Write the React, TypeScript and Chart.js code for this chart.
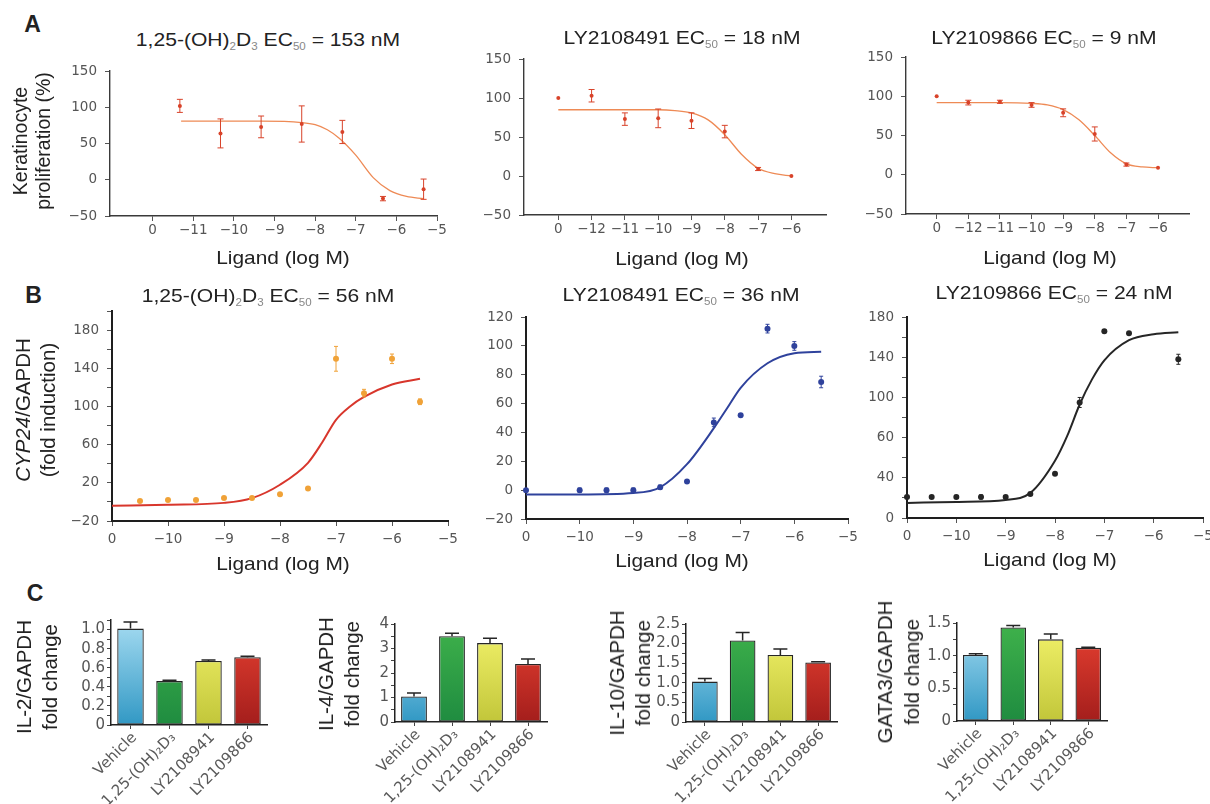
import React, { useEffect, useRef } from "react";
import { Chart, registerables } from "chart.js";
Chart.register(...registerables);

const HFONT = '"Liberation Sans", Arial, Helvetica, sans-serif';
const TFONT = '"DejaVu Sans", "Liberation Sans", sans-serif';
const M = "\u2212";

// ---------------- Row A : keratinocyte proliferation ----------------
const A_Y_TICKS = [-50, 0, 50, 100, 150];
const A_Y_LABELS = [`${M}50`, "0", "50", "100", "150"];

const A1_X_TICKS = [0, 1, 2, 3, 4, 5, 6, 7];
const A1_X_LABELS = ["0", `${M}11`, `${M}10`, `${M}9`, `${M}8`, `${M}7`, `${M}6`, `${M}5`];
const A1_PT_X = [0.67, 1.67, 2.67, 3.67, 4.67, 5.67, 6.67];
const A1_PT_Y = [102, 64, 73, 77, 66, -26, -13];
const A1_PT_ERR = [9, 20, 15, 25, 16, 3, 14];
const A1_FIT_X = [0.7, 1.67, 2.67, 3.67, 4.0, 4.3, 4.6, 5.0, 5.43, 5.84, 6.25, 6.67];
const A1_FIT_Y = [81, 81, 81, 79, 76, 69, 57, 34, 3, -15, -23, -26];

const A2_X_TICKS = [0, 1, 2, 3, 4, 5, 6, 7];
const A2_X_LABELS = ["0", `${M}12`, `${M}11`, `${M}10`, `${M}9`, `${M}8`, `${M}7`, `${M}6`];
const A2_PT_X = [0, 1, 2, 3, 4, 5, 6, 7];
const A2_PT_Y = [100, 103, 73, 74, 71, 57, 9, 0];
const A2_PT_ERR = [0, 8, 8, 12, 10, 8, 2, 0];
const A2_FIT_X = [0, 1, 2, 3, 3.5, 4, 4.5, 5, 5.5, 6, 6.5, 7];
const A2_FIT_Y = [85, 85, 85, 85, 84, 81, 72, 53, 28, 10, 3, 0];

const A3_X_TICKS = [0, 1, 2, 3, 4, 5, 6, 7];
const A3_X_LABELS = ["0", `${M}12`, `${M}11`, `${M}10`, `${M}9`, `${M}8`, `${M}7`, `${M}6`];
const A3_PT_X = [0, 1, 2, 3, 4, 5, 6, 7];
const A3_PT_Y = [100, 92, 93, 89, 79, 52, 13, 9];
const A3_PT_ERR = [0, 3, 2, 3, 5, 9, 2, 0];
const A3_FIT_X = [0, 1, 2, 3, 3.5, 4, 4.5, 5, 5.5, 6, 6.5, 7];
const A3_FIT_Y = [92, 92, 92, 91, 89, 83, 70, 50, 28, 14, 10, 9];

// ---------------- Row B : CYP24 induction ----------------
const B_X_TICKS = [0, 1, 2, 3, 4, 5, 6];
const B_X_LABELS = ["0", `${M}10`, `${M}9`, `${M}8`, `${M}7`, `${M}6`, `${M}5`];

const B1_Y_TICKS = [-20, 0, 20, 40, 60, 80, 100, 120, 140, 160, 180, 200];
const B1_Y_LABELS = [`${M}20`, "", "20", "", "60", "", "100", "", "140", "", "180", ""];
const B1_PT_X = [0.5, 1, 1.5, 2, 2.5, 3, 3.5, 4, 4.5, 5, 5.5];
const B1_PT_Y = [1, 2, 2, 4, 4, 8, 14, 150, 114, 150, 105];
const B1_PT_ERR = [1.5, 1.5, 1.5, 1.5, 1.5, 1.5, 1.5, 13, 4, 5, 3];
const B1_FIT_X = [0, 1, 2, 2.5, 3, 3.5, 3.75, 4, 4.25, 4.5, 5, 5.5];
const B1_FIT_Y = [-4, -3, -1, 4, 18, 41, 62, 86, 100, 110, 123, 129];

const B2_Y_TICKS = [-20, 0, 20, 40, 60, 80, 100, 120];
const B2_Y_LABELS = [`${M}20`, "0", "20", "40", "60", "80", "100", "120"];
const B2_PT_X = [0, 1, 1.5, 2, 2.5, 3, 3.5, 4, 4.5, 5, 5.5];
const B2_PT_Y = [0, 0, 0, 0, 2, 6, 47, 52, 112, 100, 75];
const B2_PT_ERR = [1, 1.5, 1.5, 1.5, 1.5, 1, 3, 1, 3, 3, 4];
const B2_FIT_X = [0, 1, 2, 2.5, 3, 3.5, 3.75, 4, 4.5, 5, 5.5];
const B2_FIT_Y = [-3, -3, -2, 2, 18, 43, 57, 71, 88, 95, 96];

const B3_Y_TICKS = [-20, 0, 20, 40, 60, 80, 100, 120, 140, 160, 180];
const B3_Y_LABELS = ["0", "", "40", "", "60", "", "100", "", "140", "", "180"];
const B3_PT_X = [0, 0.5, 1, 1.5, 2, 2.5, 3, 3.5, 4, 4.5, 5.5];
const B3_PT_Y = [1, 1, 1, 1, 1, 4, 24, 95, 166, 164, 138];
const B3_PT_ERR = [1, 1, 1.5, 2, 1, 1, 1, 5, 1.5, 1, 5];
const B3_FIT_X = [0, 1, 2, 2.5, 3, 3.25, 3.5, 3.75, 4, 4.5, 5, 5.5];
const B3_FIT_Y = [-5, -4, -2, 5, 37, 62, 93, 118, 137, 157, 163, 165];

// ---------------- Row C : cytokine bars ----------------
const C_CATEGORIES = ["Vehicle", "1,25-(OH)\u2082D\u2083", "LY2108941", "LY2109866"];

const C1_VALUES = [1.01, 0.46, 0.67, 0.71];
const C1_ERR = [0.07, 0.01, 0.01, 0.01];
const C1_Y_TICKS = [0, 0.1, 0.2, 0.3, 0.4, 0.5, 0.6, 0.7, 0.8, 0.9, 1.0, 1.1];
const C1_Y_LABELS = ["0", "", "0.2", "", "0.4", "", "0.6", "", "0.8", "", "1.0", ""];

const C2_VALUES = [1.04, 3.5, 3.22, 2.37];
const C2_ERR = [0.14, 0.12, 0.2, 0.2];
const C2_Y_TICKS = [0, 0.5, 1, 1.5, 2, 2.5, 3, 3.5, 4];
const C2_Y_LABELS = ["0", "", "1", "", "2", "", "3", "", "4"];

const C3_VALUES = [1.03, 2.08, 1.71, 1.52];
const C3_ERR = [0.08, 0.2, 0.15, 0.02];
const C3_Y_TICKS = [0, 0.25, 0.5, 0.75, 1.0, 1.25, 1.5, 1.75, 2.0, 2.25, 2.5];
const C3_Y_LABELS = ["0", "", "0.5", "", "1.0", "", "1.5", "", "2.0", "", "2.5"];

const C4_VALUES = [1.01, 1.43, 1.25, 1.12];
const C4_ERR = [0.02, 0.03, 0.08, 0.01];
const C4_Y_TICKS = [0, 0.25, 0.5, 0.75, 1.0, 1.25, 1.5];
const C4_Y_LABELS = ["0", "", "0.5", "", "1.0", "", "1.5"];

const C_BAR_TOP = ["#a6dcf2", "#3fb24b", "#f4f46c", "#ea4232"];
const C_BAR_BOTTOM = ["#3198c4", "#1f8c40", "#c2c63a", "#a41e1c"];

// ---------------- error bar plugin ----------------
const errorBarPlugin = {
  id: "errorBars",
  afterDatasetsDraw(chart: any) {
    const ctx = chart.ctx;
    const ys = chart.scales.y;
    chart.data.datasets.forEach((ds: any, di: number) => {
      const errs = ds.errors;
      if (!errs) return;
      const meta = chart.getDatasetMeta(di);
      ctx.save();
      ctx.strokeStyle = ds.errorColor;
      ctx.lineWidth = ds.errorWidth || 1;
      meta.data.forEach((el: any, i: number) => {
        const e = errs[i];
        if (!e) return;
        const raw = ds.data[i];
        const v = typeof raw === "number" ? raw : raw.y;
        const x = el.x;
        const top = ys.getPixelForValue(v + e);
        const bot = ds.errorUpOnly ? ys.getPixelForValue(v) : ys.getPixelForValue(v - e);
        const cap = ds.capWidth || 3;
        ctx.beginPath();
        ctx.moveTo(x, top);
        ctx.lineTo(x, bot);
        ctx.moveTo(x - cap, top);
        ctx.lineTo(x + cap, top);
        if (!ds.errorUpOnly) {
          ctx.moveTo(x - cap, bot);
          ctx.lineTo(x + cap, bot);
        }
        ctx.stroke();
      });
      ctx.restore();
    });
  },
};

type DoseSpec = {
  area: [number, number, number, number];
  xMin: number; xMax: number; xTicks: number[]; xLabels: string[];
  yMin: number; yMax: number; yTicks: number[]; yLabels: string[];
  ptX: number[]; ptY: number[]; ptErr: number[];
  fitX: number[]; fitY: number[];
  ptColor: string; fitColor: string; fitWidth: number; radius: number; cap: number;
  axisW: number; axisColor: string; xPad: number; yPad: number;
};

function DoseChart({ s }: { s: DoseSpec }) {
  const ref = useRef<HTMLCanvasElement>(null);
  const YW = 56, PT = 12, PR = 22, XH = 34;
  const [l, t, r, b] = s.area;
  const w = r - l + YW + PR;
  const h = b - t + PT + XH;
  useEffect(() => {
    const chart = new Chart(ref.current as HTMLCanvasElement, {
      type: "scatter",
      data: {
        datasets: [
          {
            type: "line",
            data: s.fitX.map((x, i) => ({ x, y: s.fitY[i] })),
            borderColor: s.fitColor,
            borderWidth: s.fitWidth,
            pointRadius: 0,
            showLine: true,
            cubicInterpolationMode: "monotone",
            fill: false,
            order: 2,
          } as any,
          {
            type: "scatter",
            data: s.ptX.map((x, i) => ({ x, y: s.ptY[i] })),
            backgroundColor: s.ptColor,
            borderColor: s.ptColor,
            pointRadius: s.radius,
            pointBorderWidth: 0,
            clip: false,
            order: 1,
            errors: s.ptErr,
            errorColor: s.ptColor,
            capWidth: s.cap,
            errorWidth: 1,
          } as any,
        ],
      },
      options: {
        responsive: false,
        animation: false,
        devicePixelRatio: 1,
        layout: { padding: { left: 0, top: PT, right: PR, bottom: 0 } },
        plugins: { legend: { display: false }, tooltip: { enabled: false }, title: { display: false } },
        scales: {
          x: {
            type: "linear",
            bounds: "data",
            min: s.xMin,
            max: s.xMax,
            afterBuildTicks: (sc: any) => { sc.ticks = s.xTicks.map((v) => ({ value: v })); },
            afterFit: (sc: any) => { sc.height = XH; },
            ticks: {
              autoSkip: false, maxRotation: 0, minRotation: 0,
              callback: (_v: any, i: number) => s.xLabels[i],
              font: { family: TFONT, size: 13.5 }, color: "#555", padding: s.xPad,
            },
            grid: { drawOnChartArea: false, drawTicks: true, tickLength: 5, color: "#555", lineWidth: 1 },
            border: { display: true, color: s.axisColor, width: s.axisW },
          } as any,
          y: {
            type: "linear",
            bounds: "data",
            min: s.yMin,
            max: s.yMax,
            afterBuildTicks: (sc: any) => { sc.ticks = s.yTicks.map((v) => ({ value: v })); },
            afterFit: (sc: any) => { sc.width = YW; },
            ticks: {
              autoSkip: false,
              callback: (_v: any, i: number) => s.yLabels[i],
              font: { family: TFONT, size: 13.5 }, color: "#555", padding: s.yPad,
            },
            grid: { drawOnChartArea: false, drawTicks: true, tickLength: 5, color: "#555", lineWidth: 1 },
            border: { display: true, color: s.axisColor, width: s.axisW },
          } as any,
        },
      },
      plugins: [errorBarPlugin as any],
    });
    return () => chart.destroy();
  }, []);
  return (
    <canvas
      ref={ref}
      width={w}
      height={h}
      style={{ position: "absolute", left: l - YW, top: t - PT, width: w, height: h }}
    />
  );
}

type BarSpec = {
  area: [number, number, number, number];
  yMax: number; yTicks: number[]; yLabels: string[];
  values: number[]; errors: number[];
};

function barFill(c: any) {
  const chart = c.chart;
  const area = chart.chartArea;
  const i = c.dataIndex ?? 0;
  if (!area) return C_BAR_BOTTOM[i];
  const g = chart.ctx.createLinearGradient(0, area.bottom, 0, area.top);
  g.addColorStop(0, C_BAR_BOTTOM[i]);
  g.addColorStop(1, C_BAR_TOP[i]);
  return g;
}

function BarChart({ s }: { s: BarSpec }) {
  const ref = useRef<HTMLCanvasElement>(null);
  const YW = 42, PT = 12, PR = 14, XH = 100;
  const [l, t, r, b] = s.area;
  const w = r - l + YW + PR;
  const h = b - t + PT + XH;
  useEffect(() => {
    const chart = new Chart(ref.current as HTMLCanvasElement, {
      type: "bar",
      data: {
        labels: C_CATEGORIES,
        datasets: [
          {
            data: s.values,
            backgroundColor: barFill,
            borderColor: "#262626",
            borderWidth: 1.3,
            borderSkipped: false,
            barPercentage: 0.68,
            categoryPercentage: 1,
            errors: s.errors,
            errorUpOnly: true,
            errorColor: "#262626",
            errorWidth: 1.5,
            capWidth: 7,
          } as any,
        ],
      },
      options: {
        responsive: false,
        animation: false,
        devicePixelRatio: 1,
        layout: { padding: { left: 0, top: PT, right: PR, bottom: 0 } },
        plugins: { legend: { display: false }, tooltip: { enabled: false }, title: { display: false } },
        scales: {
          x: {
            type: "category",
            offset: true,
            afterFit: (sc: any) => { sc.height = XH; },
            ticks: {
              autoSkip: false, minRotation: 45, maxRotation: 45, labelOffset: 4,
              font: { family: TFONT, size: 15 }, color: "#5a5a5a", padding: 0,
            },
            grid: { offset: false, drawOnChartArea: false, drawTicks: true, tickLength: 4, color: "#444" },
            border: { display: true, color: "#222", width: 1.5 },
          } as any,
          y: {
            type: "linear",
            bounds: "data",
            min: 0,
            max: s.yMax,
            afterBuildTicks: (sc: any) => { sc.ticks = s.yTicks.map((v) => ({ value: v })); },
            afterFit: (sc: any) => { sc.width = YW; },
            ticks: {
              autoSkip: false,
              callback: (_v: any, i: number) => s.yLabels[i],
              font: { family: TFONT, size: 15 }, color: "#555", padding: 2,
            },
            grid: { drawOnChartArea: false, drawTicks: true, tickLength: 4, color: "#444" },
            border: { display: true, color: "#222", width: 1.5 },
          } as any,
        },
      },
      plugins: [errorBarPlugin as any],
    });
    return () => chart.destroy();
  }, []);
  return (
    <canvas
      ref={ref}
      width={w}
      height={h}
      style={{ position: "absolute", left: l - YW, top: t - PT, width: w, height: h }}
    />
  );
}

const Sub = ({ children }: { children: any }) => (
  <sub style={{ fontSize: "0.55em", color: "#888", verticalAlign: "-0.4em", lineHeight: 0 }}>{children}</sub>
);

function Txt({ x, y, size, children, rot = false, bold = false, sx = 1, lh }: any) {
  const tf = rot
    ? `translate(-50%,-50%) rotate(-90deg) scaleY(${sx})`
    : `translate(-50%,-50%) scaleX(${sx})`;
  return (
    <div
      style={{
        position: "absolute", left: x, top: y, transform: tf, fontSize: size, fontFamily: HFONT,
        fontWeight: bold ? 700 : 400, color: "#222", whiteSpace: "nowrap", textAlign: "center",
        lineHeight: lh ? `${lh}px` : 1.15, zIndex: 2,
      }}
    >
      {children}
    </div>
  );
}

const common = { axisColor: "#3a3a3a", axisW: 1.4 };

const SPEC_A1: DoseSpec = {
  ...common, area: [110, 67, 437, 216], xMin: -1.05, xMax: 7, xTicks: A1_X_TICKS, xLabels: A1_X_LABELS,
  yMin: -50, yMax: 150, yTicks: A_Y_TICKS, yLabels: A_Y_LABELS,
  ptX: A1_PT_X, ptY: A1_PT_Y, ptErr: A1_PT_ERR, fitX: A1_FIT_X, fitY: A1_FIT_Y,
  ptColor: "#d8432a", fitColor: "#ee8a55", fitWidth: 1.3, radius: 2, cap: 3, xPad: 1, yPad: 8,
};
const SPEC_A2: DoseSpec = {
  ...common, area: [524, 55, 826, 215], xMin: -1.03, xMax: 8.04, xTicks: A2_X_TICKS, xLabels: A2_X_LABELS,
  yMin: -50, yMax: 150, yTicks: A_Y_TICKS, yLabels: A_Y_LABELS,
  ptX: A2_PT_X, ptY: A2_PT_Y, ptErr: A2_PT_ERR, fitX: A2_FIT_X, fitY: A2_FIT_Y,
  ptColor: "#d8432a", fitColor: "#ee8a55", fitWidth: 1.3, radius: 2, cap: 3, xPad: 1, yPad: 8,
};
const SPEC_A3: DoseSpec = {
  ...common, area: [906, 53, 1189, 214], xMin: -0.97, xMax: 7.98, xTicks: A3_X_TICKS, xLabels: A3_X_LABELS,
  yMin: -50, yMax: 150, yTicks: A_Y_TICKS, yLabels: A_Y_LABELS,
  ptX: A3_PT_X, ptY: A3_PT_Y, ptErr: A3_PT_ERR, fitX: A3_FIT_X, fitY: A3_FIT_Y,
  ptColor: "#d8432a", fitColor: "#ee8a55", fitWidth: 1.3, radius: 2, cap: 3, xPad: 1, yPad: 8,
};
const bAxis = { axisColor: "#1e1e1e", axisW: 2 };
const SPEC_B1: DoseSpec = {
  ...bAxis, area: [112, 307, 448, 521], xMin: 0, xMax: 6, xTicks: B_X_TICKS, xLabels: B_X_LABELS,
  yMin: -20, yMax: 200, yTicks: B1_Y_TICKS, yLabels: B1_Y_LABELS,
  ptX: B1_PT_X, ptY: B1_PT_Y, ptErr: B1_PT_ERR, fitX: B1_FIT_X, fitY: B1_FIT_Y,
  ptColor: "#f0a238", fitColor: "#d8362c", fitWidth: 2, radius: 3, cap: 2, xPad: 5, yPad: 8,
};
const SPEC_B2: DoseSpec = {
  ...bAxis, area: [526, 313, 848, 519], xMin: 0, xMax: 6, xTicks: B_X_TICKS, xLabels: B_X_LABELS,
  yMin: -20, yMax: 120, yTicks: B2_Y_TICKS, yLabels: B2_Y_LABELS,
  ptX: B2_PT_X, ptY: B2_PT_Y, ptErr: B2_PT_ERR, fitX: B2_FIT_X, fitY: B2_FIT_Y,
  ptColor: "#2f429c", fitColor: "#2f429c", fitWidth: 2, radius: 3, cap: 2, xPad: 5, yPad: 8,
};
const SPEC_B3: DoseSpec = {
  ...bAxis, area: [907, 313, 1203, 518], xMin: 0, xMax: 6, xTicks: B_X_TICKS, xLabels: B_X_LABELS,
  yMin: -20, yMax: 180, yTicks: B3_Y_TICKS, yLabels: B3_Y_LABELS,
  ptX: B3_PT_X, ptY: B3_PT_Y, ptErr: B3_PT_ERR, fitX: B3_FIT_X, fitY: B3_FIT_Y,
  ptColor: "#262626", fitColor: "#262626", fitWidth: 2, radius: 3, cap: 2, xPad: 5, yPad: 8,
};

const SPEC_C1: BarSpec = { area: [111, 620, 267, 725], yMax: 1.1, yTicks: C1_Y_TICKS, yLabels: C1_Y_LABELS, values: C1_VALUES, errors: C1_ERR };
const SPEC_C2: BarSpec = { area: [395, 624, 547, 722], yMax: 4, yTicks: C2_Y_TICKS, yLabels: C2_Y_LABELS, values: C2_VALUES, errors: C2_ERR };
const SPEC_C3: BarSpec = { area: [686, 624, 837, 722], yMax: 2.5, yTicks: C3_Y_TICKS, yLabels: C3_Y_LABELS, values: C3_VALUES, errors: C3_ERR };
const SPEC_C4: BarSpec = { area: [957, 623, 1107, 721], yMax: 1.5, yTicks: C4_Y_TICKS, yLabels: C4_Y_LABELS, values: C4_VALUES, errors: C4_ERR };

export default function App() {
  const T = 18.5;
  const SX = 1.14;
  return (
    <div style={{ position: "fixed", left: 0, top: 0, width: 1210, height: 804, background: "#fff", overflow: "hidden" }}>
      <DoseChart s={SPEC_A1} />
      <DoseChart s={SPEC_A2} />
      <DoseChart s={SPEC_A3} />
      <DoseChart s={SPEC_B1} />
      <DoseChart s={SPEC_B2} />
      <DoseChart s={SPEC_B3} />
      <BarChart s={SPEC_C1} />
      <BarChart s={SPEC_C2} />
      <BarChart s={SPEC_C3} />
      <BarChart s={SPEC_C4} />

      <Txt x={32.5} y={24} size={23} bold>A</Txt>
      <Txt x={33.5} y={295} size={23} bold>B</Txt>
      <Txt x={35} y={593} size={23} bold>C</Txt>

      <Txt x={267.5} y={40} size={T} sx={SX}>1,25-(OH)<Sub>2</Sub>D<Sub>3</Sub> EC<Sub>50</Sub> = 153 nM</Txt>
      <Txt x={681.7} y={38.3} size={T} sx={SX}>LY2108491 EC<Sub>50</Sub> = 18 nM</Txt>
      <Txt x={1043.5} y={38.3} size={T} sx={SX}>LY2109866 EC<Sub>50</Sub> = 9 nM</Txt>
      <Txt x={268.3} y={296} size={T} sx={SX}>1,25-(OH)<Sub>2</Sub>D<Sub>3</Sub> EC<Sub>50</Sub> = 56 nM</Txt>
      <Txt x={680.8} y={295} size={T} sx={SX}>LY2108491 EC<Sub>50</Sub> = 36 nM</Txt>
      <Txt x={1054} y={293} size={T} sx={SX}>LY2109866 EC<Sub>50</Sub> = 24 nM</Txt>

      <Txt x={283} y={258} size={19} sx={1.1}>Ligand (log M)</Txt>
      <Txt x={681.7} y={258.5} size={19} sx={1.1}>Ligand (log M)</Txt>
      <Txt x={1050} y={257.5} size={19} sx={1.1}>Ligand (log M)</Txt>
      <Txt x={282.5} y={564} size={19} sx={1.1}>Ligand (log M)</Txt>
      <Txt x={681.7} y={561} size={19} sx={1.1}>Ligand (log M)</Txt>
      <Txt x={1050} y={559.5} size={19} sx={1.1}>Ligand (log M)</Txt>

      <Txt x={31.7} y={141} size={19.5} rot lh={23}>Keratinocyte<br />proliferation (%)</Txt>
      <Txt x={35} y={410} size={20.5} rot lh={25}><i>CYP24</i>/GAPDH<br />(fold induction)</Txt>
      <Txt x={36.7} y={677} size={20.5} rot lh={26}>IL-2/GAPDH<br />fold change</Txt>
      <Txt x={339} y={674} size={20.5} rot lh={26}>IL-4/GAPDH<br />fold change</Txt>
      <Txt x={630} y={673} size={20.5} rot lh={26}>IL-10/GAPDH<br />fold change</Txt>
      <Txt x={898} y={672} size={20.5} rot lh={27}>GATA3/GAPDH<br />fold change</Txt>
    </div>
  );
}
